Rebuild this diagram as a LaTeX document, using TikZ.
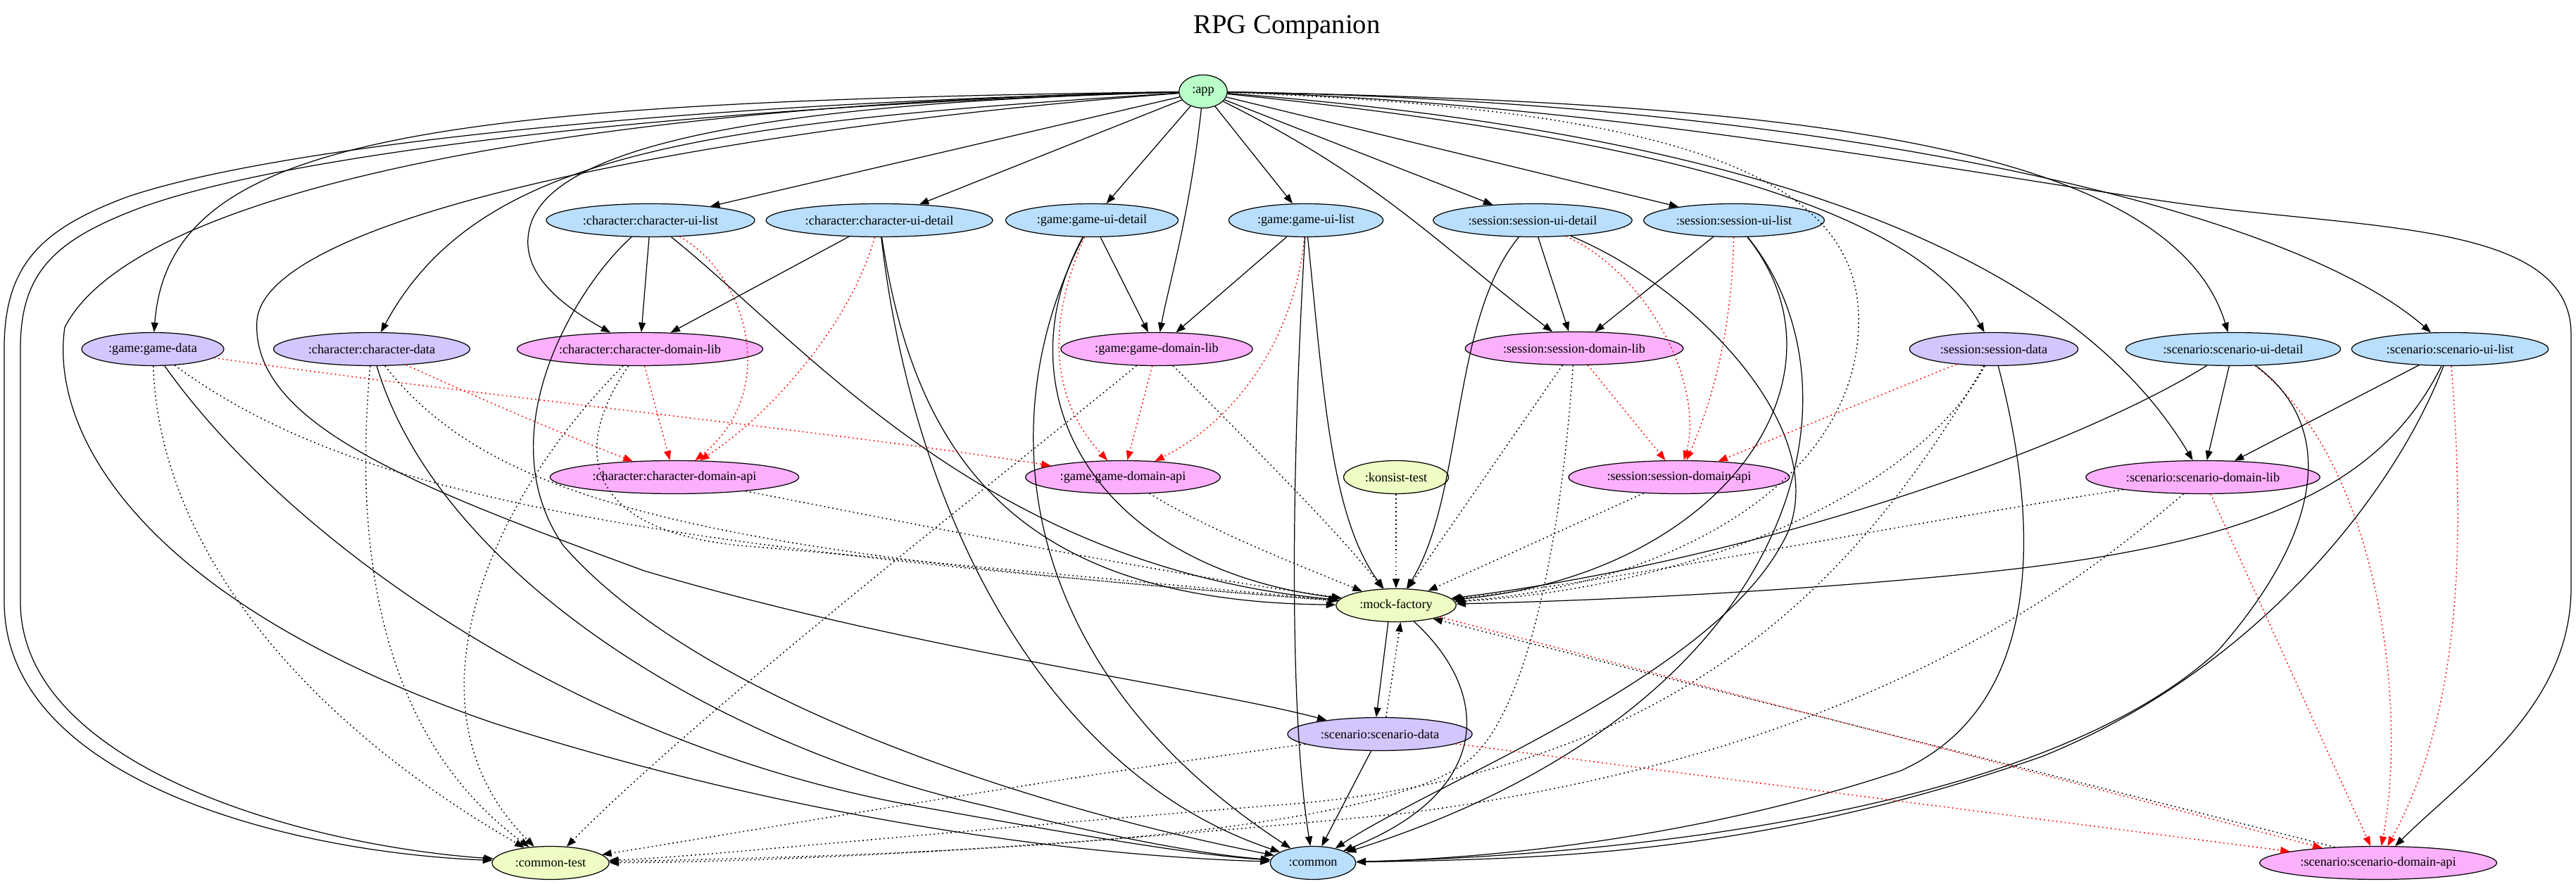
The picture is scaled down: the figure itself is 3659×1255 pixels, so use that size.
\documentclass[tikz,border=0pt]{standalone}
\usepackage{fontspec}
\setmainfont{Liberation Serif}
\usetikzlibrary{arrows.meta,shapes.geometric}
\definecolor{appgreen}{HTML}{BAFFC9}
\definecolor{uiblue}{HTML}{BADFFD}
\definecolor{datapurple}{HTML}{D2C6FD}
\definecolor{domainpink}{HTML}{FBB0FB}
\definecolor{testyellow}{HTML}{EEFDC4}

\begin{document}
\begin{tikzpicture}[x=0.02cm, y=0.02cm,
  mod/.style = {draw, ellipse, line width=0.7pt, inner xsep=0.17cm, inner ysep=0pt, minimum height=0.94cm, font=\fontsize{10.4}{12}\selectfont},
  appmod/.style = {mod, fill=appgreen},
  uimod/.style = {mod, fill=uiblue},
  datamod/.style = {mod, fill=datapurple},
  domainmod/.style = {mod, fill=domainpink},
  testmod/.style = {mod, fill=testyellow},
  impl/.style = {line width=0.7pt, -{Triangle[length=0.27cm,width=0.2cm]}},
  tst/.style = {impl, line width=0.85pt, dash pattern=on 1pt off 2.4pt},
  apidep/.style = {tst, draw=red}]
\useasboundingbox (0,0) rectangle (3659,1255);
\node[anchor=base, font=\fontsize{22}{26}\selectfont] (title) at (1828,1207) {RPG Companion};
\node[appmod] (app) at (1709,1125) {:app};
\node[uimod] (charUiList) at (924,942) {:character:character-ui-list};
\node[uimod] (charUiDetail) at (1249,942) {:character:character-ui-detail};
\node[uimod] (gameUiDetail) at (1551,942) {:game:game-ui-detail};
\node[uimod] (gameUiList) at (1855,942) {:game:game-ui-list};
\node[uimod] (sessionUiDetail) at (2177,942) {:session:session-ui-detail};
\node[uimod] (sessionUiList) at (2463,942) {:session:session-ui-list};
\node[datamod] (gameData) at (217,759) {:game:game-data};
\node[datamod] (charData) at (528,759) {:character:character-data};
\node[domainmod] (charDomainLib) at (909,759) {:character:character-domain-lib};
\node[domainmod] (gameDomainLib) at (1643,759) {:game:game-domain-lib};
\node[domainmod] (sessionDomainLib) at (2236,760) {:session:session-domain-lib};
\node[datamod] (sessionData) at (2832,759) {:session:session-data};
\node[uimod] (scenarioUiDetail) at (3172,759) {:scenario:scenario-ui-detail};
\node[uimod] (scenarioUiList) at (3480,759) {:scenario:scenario-ui-list};
\node[domainmod] (charDomainApi) at (958,577) {:character:character-domain-api};
\node[domainmod] (gameDomainApi) at (1595,577) {:game:game-domain-api};
\node[testmod] (konsistTest) at (1983,577) {:konsist-test};
\node[domainmod] (sessionDomainApi) at (2385,577) {:session:session-domain-api};
\node[domainmod] (scenarioDomainLib) at (3129,577) {:scenario:scenario-domain-lib};
\node[testmod] (mockFactory) at (1983,395) {:mock-factory};
\node[datamod] (scenarioData) at (1960,212) {:scenario:scenario-data};
\node[testmod] (commonTest) at (782,29) {:common-test};
\node[uimod] (common) at (1865,29) {:common};
\node[domainmod] (scenarioDomainApi) at (3378,29) {:scenario:scenario-domain-api};
% app
\draw[impl] (app) -- (charUiList);
\draw[impl] (app) -- (charUiDetail);
\draw[impl] (app) -- (gameUiDetail);
\draw[impl] (app) -- (gameUiList);
\draw[impl] (app) -- (sessionUiDetail);
\draw[impl] (app) -- (sessionUiList);
\draw[impl] (app) .. controls (1690,950) and (1660,850) .. (gameDomainLib);
\draw[impl] (app) .. controls (1960,1000) and (2040,910) .. (sessionDomainLib);
\draw[impl] (app) .. controls (2350,1060) and (2720,960) .. (sessionData);
\draw[impl] (app) .. controls (2500,1110) and (3080,1060) .. (scenarioUiDetail);
\draw[impl] (app) .. controls (2600,1110) and (3250,960) .. (scenarioUiList);
\draw[impl] (app) .. controls (2300,1080) and (2900,960) .. (scenarioDomainLib);
\draw[impl] (app) .. controls (2300,1110) and (2900,989) .. (3150,959) .. controls (3400,929) and (3652,930) .. (3652,780) -- (3652,420) .. controls (3652,250) and (3500,150) .. (scenarioDomainApi);
\draw[tst] (app) .. controls (2400,1100) and (2640,1000) .. (2640,800) .. controls (2640,560) and (2350,420) .. (mockFactory);
\draw[impl] (app) .. controls (1150,1110) and (800,1060) .. (755,940) .. controls (730,870) and (800,820) .. (charDomainLib);
\draw[impl] (app) .. controls (600,1110) and (240,1060) .. (gameData);
\draw[impl] (app) .. controls (1000,1080) and (680,1040) .. (charData);
\draw[impl] (app) .. controls (1100,1080) and (380,960) .. (365,800) .. controls (355,650) and (600,560) .. (915,444) .. controls (1300,330) and (1700,280) .. (scenarioData);
\draw[impl] (app) .. controls (900,1110) and (200,1000) .. (92,790) .. controls (70,640) and (200,400) .. (700,228) .. controls (1100,100) and (1500,40) .. (common);
\draw[impl] (app) .. controls (1000,1110) and (400,1050) .. (180,975) .. controls (60,930) and (6,880) .. (6,760) -- (6,400) .. controls (6,150) and (400,45) .. (commonTest);
\draw[impl] (app) .. controls (1000,1105) and (420,1040) .. (200,960) .. controls (80,915) and (29,870) .. (29,760) -- (29,400) .. controls (29,170) and (420,55) .. (commonTest);
% ui modules
\draw[impl] (charUiList) -- (charDomainLib);
\draw[apidep] (charUiList) .. controls (1060,866) and (1110,700) .. (charDomainApi);
\draw[impl] (charUiList) .. controls (820,850) and (690,640) .. (800,480) .. controls (1000,250) and (1500,100) .. (common);
\draw[impl] (charUiList) .. controls (1150,760) and (1400,450) .. (mockFactory);
\draw[impl] (charUiDetail) -- (charDomainLib);
\draw[apidep] (charUiDetail) .. controls (1210,800) and (1100,670) .. (charDomainApi);
\draw[impl] (charUiDetail) .. controls (1300,500) and (1500,150) .. (common);
\draw[impl] (charUiDetail) .. controls (1300,600) and (1450,400) .. (mockFactory);
\draw[impl] (gameUiDetail) -- (gameDomainLib);
\draw[apidep] (gameUiDetail) .. controls (1480,780) and (1500,680) .. (gameDomainApi);
\draw[impl] (gameUiDetail) .. controls (1400,650) and (1450,300) .. (common);
\draw[impl] (gameUiDetail) .. controls (1420,700) and (1550,450) .. (mockFactory);
\draw[impl] (gameUiList) -- (gameDomainLib);
\draw[apidep] (gameUiList) .. controls (1840,780) and (1760,660) .. (gameDomainApi);
\draw[impl] (gameUiList) .. controls (1835,600) and (1830,250) .. (common);
\draw[impl] (gameUiList) .. controls (1880,700) and (1890,520) .. (mockFactory);
\draw[impl] (sessionUiDetail) -- (sessionDomainLib);
\draw[apidep] (sessionUiDetail) .. controls (2350,860) and (2420,700) .. (sessionDomainApi);
\draw[impl] (sessionUiDetail) .. controls (2400,850) and (2600,650) .. (2540,500) .. controls (2450,300) and (2050,150) .. (common);
\draw[impl] (sessionUiDetail) .. controls (2060,800) and (2080,550) .. (mockFactory);
\draw[impl] (sessionUiList) -- (sessionDomainLib);
\draw[apidep] (sessionUiList) .. controls (2460,780) and (2430,680) .. (sessionDomainApi);
\draw[impl] (sessionUiList) .. controls (2660,700) and (2560,250) .. (common);
\draw[impl] (sessionUiList) .. controls (2640,720) and (2450,440) .. (mockFactory);
\draw[impl] (scenarioUiDetail) -- (scenarioDomainLib);
\draw[apidep] (scenarioUiDetail) .. controls (3380,600) and (3420,250) .. (scenarioDomainApi);
\draw[impl] (scenarioUiDetail) .. controls (3320,650) and (3300,500) .. (3150,330) .. controls (2900,100) and (2300,40) .. (common);
\draw[impl] (scenarioUiDetail) .. controls (2950,620) and (2500,460) .. (mockFactory);
\draw[impl] (scenarioUiList) -- (scenarioDomainLib);
\draw[apidep] (scenarioUiList) .. controls (3500,500) and (3500,250) .. (scenarioDomainApi);
\draw[impl] (scenarioUiList) .. controls (3380,560) and (3200,480) .. (2800,440) .. controls (2500,410) and (2200,400) .. (mockFactory);
\draw[impl] (scenarioUiList) .. controls (3400,550) and (3200,300) .. (2900,180) .. controls (2500,40) and (2200,35) .. (common);
% data modules
\draw[tst] (gameData) .. controls (225,500) and (400,250) .. (commonTest);
\draw[impl] (gameData) .. controls (400,500) and (800,200) .. (1300,110) .. controls (1550,65) and (1700,40) .. (common);
\draw[tst] (gameData) .. controls (500,550) and (900,480) .. (mockFactory);
\draw[apidep] (gameData) .. controls (700,690) and (1200,640) .. (gameDomainApi);
\draw[tst] (charData) .. controls (500,450) and (550,200) .. (commonTest);
\draw[impl] (charData) .. controls (620,450) and (1000,200) .. (1400,110) .. controls (1600,60) and (1720,40) .. (common);
\draw[tst] (charData) .. controls (700,540) and (1000,470) .. (mockFactory);
\draw[apidep] (charData) .. controls (700,680) and (820,630) .. (charDomainApi);
\draw[apidep] (sessionData) -- (sessionDomainApi);
\draw[tst] (sessionData) .. controls (2720,550) and (2400,420) .. (mockFactory);
\draw[tst] (sessionData) .. controls (2650,450) and (2400,150) .. (1800,110) .. controls (1300,70) and (1000,38) .. (commonTest);
\draw[impl] (sessionData) .. controls (2900,500) and (2900,250) .. (2700,160) .. controls (2400,60) and (2100,35) .. (common);
\draw[impl] (scenarioData) -- (common);
\draw[tst] (scenarioData.70) -- (mockFactory.285);
\draw[apidep] (scenarioData) -- (scenarioDomainApi);
\draw[tst] (scenarioData) .. controls (1500,150) and (1100,80) .. (commonTest);
% domain modules
\draw[apidep] (charDomainLib) -- (charDomainApi);
\draw[tst] (charDomainLib) .. controls (700,550) and (560,250) .. (commonTest);
\draw[tst] (charDomainLib) .. controls (800,600) and (850,500) .. (1050,480) .. controls (1400,450) and (1700,420) .. (mockFactory);
\draw[tst] (charDomainApi) .. controls (1300,510) and (1650,440) .. (mockFactory);
\draw[apidep] (gameDomainLib) -- (gameDomainApi);
\draw[tst] (gameDomainLib) .. controls (1450,600) and (1000,250) .. (commonTest);
\draw[tst] (gameDomainLib) .. controls (1780,620) and (1900,500) .. (mockFactory);
\draw[tst] (gameDomainApi) .. controls (1720,500) and (1850,450) .. (mockFactory);
\draw[apidep] (sessionDomainLib) -- (sessionDomainApi);
\draw[tst] (sessionDomainLib) -- (mockFactory);
\draw[tst] (sessionDomainLib) .. controls (2215,450) and (2160,225) .. (2080,170) .. controls (1920,60) and (1300,40) .. (commonTest);
\draw[tst] (sessionDomainApi) -- (mockFactory);
\draw[apidep] (scenarioDomainLib) -- (scenarioDomainApi);
\draw[tst] (scenarioDomainLib) .. controls (2700,510) and (2300,430) .. (mockFactory);
\draw[tst] (scenarioDomainLib) .. controls (2900,380) and (2600,180) .. (2000,100) .. controls (1500,50) and (1100,30) .. (commonTest);
\draw[tst] (scenarioDomainApi.160) -- (mockFactory.340);
% test modules
\draw[tst] (konsistTest) -- (mockFactory);
\draw[impl] (mockFactory.245) -- (scenarioData.102);
\draw[impl] (mockFactory) .. controls (2120,270) and (2120,130) .. (common);
\draw[apidep] (mockFactory.345) -- (scenarioDomainApi.165);
\end{tikzpicture}
\end{document}
